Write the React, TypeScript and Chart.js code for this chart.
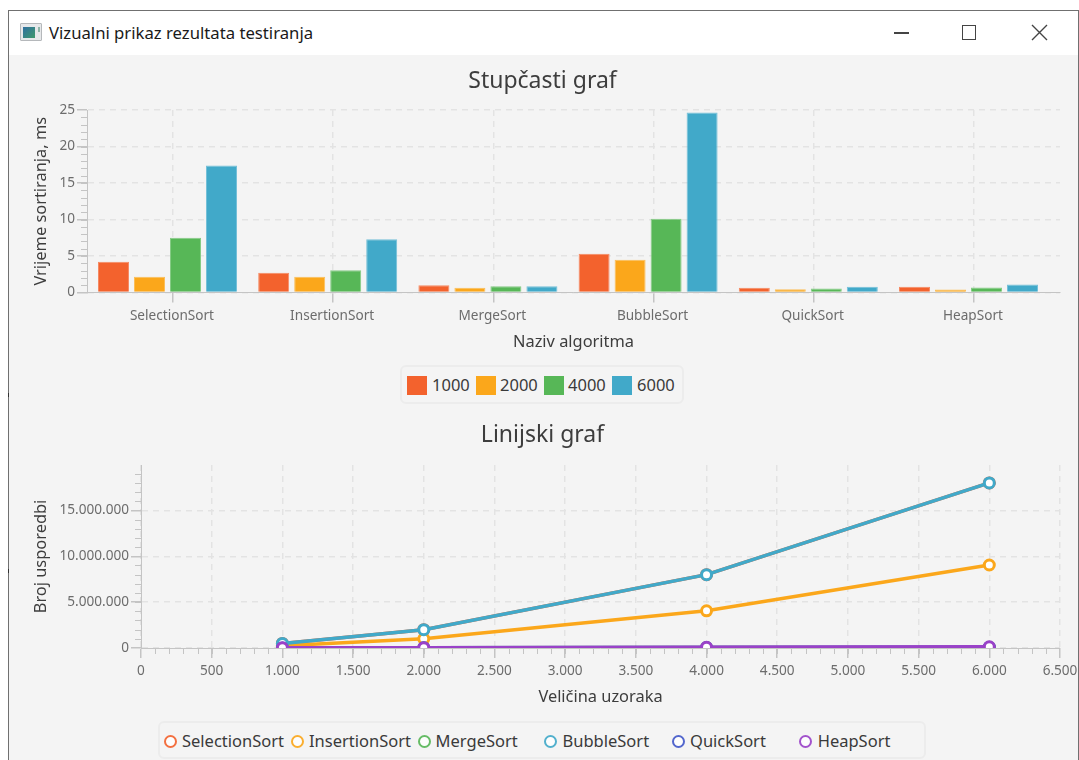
import React, { useEffect, useRef } from "react";
import { Chart, registerables } from "chart.js";

Chart.register(...registerables);

const FONT = '"Noto Sans", "Open Sans", sans-serif';

const algorithms = ["SelectionSort", "InsertionSort", "MergeSort", "BubbleSort", "QuickSort", "HeapSort"];
const barSeriesNames = ["1000", "2000", "4000", "6000"];
const bar1000 = [4.2, 2.7, 1.0, 5.3, 0.65, 0.8];
const bar2000 = [2.15, 2.15, 0.65, 4.5, 0.45, 0.42];
const bar4000 = [7.5, 3.05, 0.85, 10.1, 0.55, 0.7];
const bar6000 = [17.4, 7.3, 0.85, 24.65, 0.8, 1.1];

const sampleSizes = [1000, 2000, 4000, 6000];
const selectionCmp = [499500, 1999000, 7998000, 17997000];
const insertionCmp = [250000, 1000000, 4050000, 9050000];
const mergeCmp = [8700, 19400, 42800, 67000];
const bubbleCmp = [499500, 1999000, 7998000, 17997000];
const quickCmp = [11000, 25000, 55000, 90000];
const heapCmp = [17000, 38000, 84000, 130000];
const lineYTicks = [0, 5000000, 10000000, 15000000];

const COLORS = ["#f3622d", "#fba71b", "#57b757", "#41a9c9", "#4258c9", "#9a42c8"];
const BAR_EDGES = ["#f58a63", "#fbbe59", "#85cb85", "#75c0d8"];
const TICK = "#6c6c6c";
const AXIS = "#c4c4c4";
const GRID = "#e3e3e3";
const LABEL = "#3d3d3d";

const dotted = (v: number) => String(v).replace(/\B(?=(\d{3})+(?!\d))/g, ".");

function minorTicks(axisId: string, step: number, len: number) {
  return {
    id: "minor-" + axisId,
    afterDraw(chart: any) {
      const s = chart.scales[axisId];
      const ctx = chart.ctx;
      ctx.save();
      ctx.strokeStyle = AXIS;
      ctx.lineWidth = 1;
      ctx.beginPath();
      for (let v = s.min + step; v < s.max; v += step) {
        const p = Math.round(s.getPixelForValue(v)) + 0.5;
        if (s.isHorizontal()) {
          ctx.moveTo(p, s.top);
          ctx.lineTo(p, s.top + len);
        } else {
          ctx.moveTo(s.right - len, p);
          ctx.lineTo(s.right, p);
        }
      }
      ctx.stroke();
      ctx.restore();
    },
  };
}

const categoryPlacement = {
  id: "categoryPlacement",
  afterLayout(chart: any) {
    const s = chart.scales.x;
    s._startValue = -0.5025;
    s._valueRange = s.width / 160.2;
  },
};

const axisCommon = (size = 13.6) => ({
  color: TICK,
  font: { family: FONT, size },
  maxRotation: 0,
  autoSkip: false,
});

const gridCommon = {
  color: GRID,
  tickColor: AXIS,
  tickLength: 10,
  lineWidth: 1.5,
};
const borderCommon = { color: AXIS, dash: [6, 5], width: 1 };

const titleOpts = (text: string, pad: any) => ({
  display: true,
  text,
  color: LABEL,
  font: { family: FONT, size: 23, weight: "normal" as const },
  padding: pad,
});

const axisTitle = (text: string, padding: any) => ({
  display: true,
  text,
  color: LABEL,
  font: { family: FONT, size: 16.4 },
  padding,
});

const chartLayout = { padding: { left: 25, right: 25, top: 0, bottom: 0 } };

function BarChart() {
  const ref = useRef<HTMLCanvasElement>(null);
  useEffect(() => {
    const chart = new Chart(ref.current!, {
      type: "bar",
      data: {
        labels: algorithms,
        datasets: [bar1000, bar2000, bar4000, bar6000].map((d, i) => ({
          label: barSeriesNames[i],
          data: d,
          backgroundColor: COLORS[i],
          borderColor: BAR_EDGES[i],
          borderWidth: 1,
          categoryPercentage: 0.899,
          barPercentage: 0.861,
        })),
      },
      options: {
        animation: false,
        responsive: false,
        layout: chartLayout,
        plugins: {
          legend: { display: false },
          tooltip: { enabled: false },
          title: titleOpts("Stupčasti graf", { top: 9.2, bottom: 15.2 }),
        },
        scales: {
          x: {
            type: "category",
            offset: true,
            afterBuildTicks: (s: any) => {
              s.ticks = s.ticks.map((t: any) => ({ ...t, value: t.value + 0.034 }));
            },
            afterFit: (s: any) => {
              s.height = 65.5;
            },
            ticks: { ...axisCommon(), padding: 5, labelOffset: -1, callback: (_v: any, i: number) => algorithms[i] },
            grid: { ...gridCommon, offset: false },
            border: borderCommon,
            title: axisTitle("Naziv algoritma", { top: 0, bottom: 6 }),
          },
          y: {
            min: 0,
            max: 25,
            afterFit: (s: any) => {
              s.width = 62;
            },
            ticks: { ...axisCommon(), stepSize: 5, padding: 2 },
            grid: gridCommon,
            border: borderCommon,
            title: axisTitle("Vrijeme sortiranja, ms", { top: 6, bottom: 0 }),
          },
        },
      },
      plugins: [categoryPlacement, minorTicks("y", 1, 6)],
    } as any);
    return () => chart.destroy();
  }, []);
  return <canvas ref={ref} width={1085} height={300} style={{ position: "absolute", left: 0, top: 58 }} />;
}

function LineChart() {
  const ref = useRef<HTMLCanvasElement>(null);
  useEffect(() => {
    const series = [selectionCmp, insertionCmp, mergeCmp, bubbleCmp, quickCmp, heapCmp];
    const chart = new Chart(ref.current!, {
      type: "line",
      data: {
        datasets: series.map((d, i) => ({
          label: algorithms[i],
          data: d.map((y, k) => ({ x: sampleSizes[k], y })),
          borderColor: COLORS[i],
          backgroundColor: "#ffffff",
          borderWidth: 3.5,
          pointRadius: 5,
          pointBorderWidth: 3,
          pointBackgroundColor: "#ffffff",
          pointBorderColor: COLORS[i],
          tension: 0,
          clip: 0,
          order: series.length - i,
        })),
      },
      options: {
        animation: false,
        responsive: false,
        layout: chartLayout,
        plugins: {
          legend: { display: false },
          tooltip: { enabled: false },
          title: titleOpts("Linijski graf", { top: 3.2, bottom: 16.2 }),
        },
        scales: {
          x: {
            type: "linear",
            min: 0,
            max: 6500,
            afterFit: (s: any) => {
              s.height = 70;
            },
            ticks: { ...axisCommon(), stepSize: 500, padding: 5, callback: (v: any) => dotted(v) },
            grid: gridCommon,
            border: borderCommon,
            title: axisTitle("Veličina uzoraka", { top: 0, bottom: 11 }),
          },
          y: {
            type: "linear",
            min: 0,
            max: 19950000,
            afterBuildTicks: (s: any) => {
              s.ticks = lineYTicks.map((value) => ({ value }));
            },
            afterFit: (s: any) => {
              s.width = 116;
            },
            ticks: { ...axisCommon(), padding: 2, callback: (v: any) => dotted(v) },
            grid: gridCommon,
            border: borderCommon,
            title: axisTitle("Broj usporedbi", { top: 6, bottom: 0 }),
          },
        },
      },
      plugins: [minorTicks("x", 100, 6), minorTicks("y", 1000000, 6)],
    } as any);
    return () => chart.destroy();
  }, []);
  return <canvas ref={ref} width={1085} height={300} style={{ position: "absolute", left: 0, top: 418 }} />;
}

const abs = (l: number, t: number, w: number, h: number, extra: React.CSSProperties = {}): React.CSSProperties => ({
  position: "absolute",
  left: l,
  top: t,
  width: w,
  height: h,
  boxSizing: "border-box",
  ...extra,
});

const legendBox: React.CSSProperties = {
  border: "2px solid #ececec",
  borderRadius: 6,
};

const legendText = (left: number, top: number, text: string) => (
  <span
    key={text}
    style={{ position: "absolute", left, top, font: `16.5px/22px ${FONT}`, color: "#3a3a3a", whiteSpace: "nowrap" }}
  >
    {text}
  </span>
);

const barLegendSquares = [407, 476, 544, 612];
const barLegendTexts = [432, 500, 568, 637];
const lineLegendMarks = [170.5, 297, 424, 550.7, 678, 805.6];
const lineLegendTexts = [182, 309, 435.6, 562.5, 690, 817.7];

export default function App() {
  return (
    <div style={{ position: "absolute", left: 0, top: 0, width: 1079, height: 760, overflow: "hidden", background: "#fff" }}>
      <div style={abs(8, 10, 1071, 760, { border: "1px solid #707070", background: "#fff" })} />
      <div style={abs(9, 55, 1069, 705, { background: "#f4f4f4" })} />
      <div style={abs(8, 393, 1, 4, { background: "#333" })} />
      <div style={abs(8, 569, 1, 4, { background: "#333" })} />

      <div style={abs(20, 23, 22, 18, { background: "#e6e8ea", border: "1px solid #b5b8bb", borderRadius: 1 })}>
        <div style={abs(2, 3, 12, 11, { background: "linear-gradient(135deg,#2f6fa0,#3f9a6c)" })} />
        <div style={abs(17, 3, 2, 5, { background: "#8fb4a8" })} />
      </div>
      <span style={{ position: "absolute", left: 49, top: 22, font: `16.7px/22px ${FONT}`, color: "#1a1a1a", whiteSpace: "nowrap" }}>
        Vizualni prikaz rezultata testiranja
      </span>
      <div style={abs(894, 32, 15, 1.5, { background: "#444" })} />
      <div style={abs(962, 25, 14, 15, { border: "1.5px solid #444" })} />
      <svg style={abs(1031, 24, 17, 17)} viewBox="0 0 17 17">
        <path d="M1 1 L16 16 M16 1 L1 16" stroke="#444" strokeWidth="1.4" fill="none" />
      </svg>

      <BarChart />
      <LineChart />

      <div style={abs(400, 365, 284, 39, legendBox)} />
      {barSeriesNames.map((n, i) => (
        <div key={n} style={abs(barLegendSquares[i], 376, 20, 19, { background: COLORS[i] })} />
      ))}
      {barSeriesNames.map((n, i) => legendText(barLegendTexts[i], 374, n))}

      <div style={abs(158, 721, 768, 38, legendBox)} />
      {algorithms.map((n, i) => (
        <div
          key={n}
          style={abs(lineLegendMarks[i] - 6.5, 734.5, 13, 13, {
            border: `2.5px solid ${COLORS[i]}`,
            borderRadius: "50%",
            background: "#fff",
            opacity: 0.9,
          })}
        />
      ))}
      {algorithms.map((n, i) => legendText(lineLegendTexts[i], 730, n))}
    </div>
  );
}
